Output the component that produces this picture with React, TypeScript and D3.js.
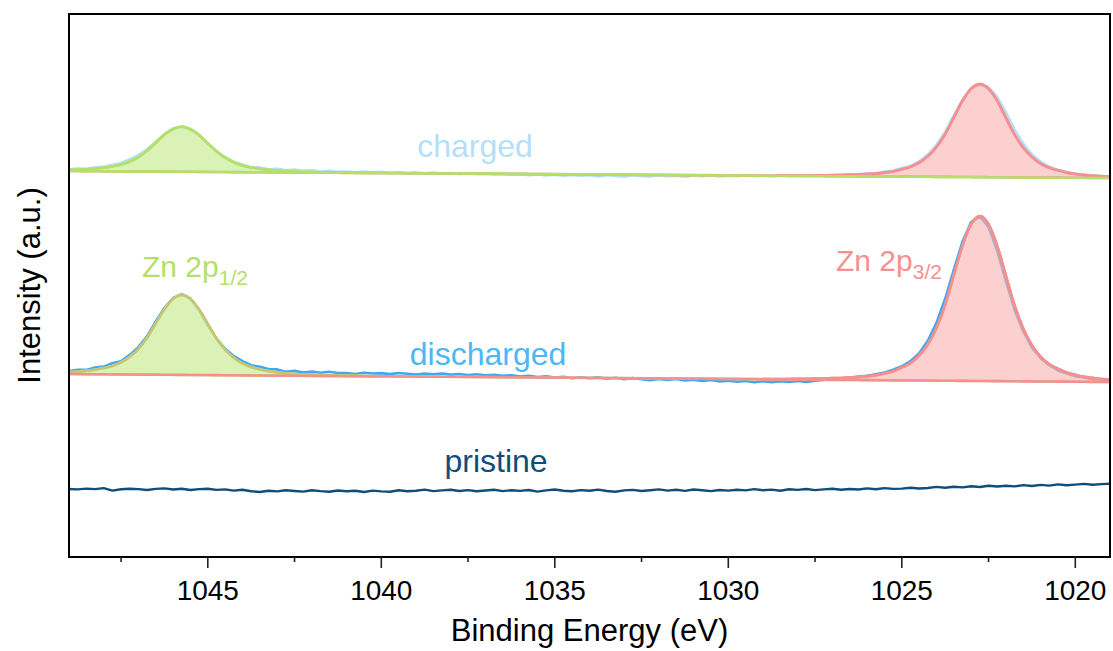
import React from 'react';
import * as d3 from 'd3';

// ---------- data ----------
// measured energy grid (eV), 0.25 eV step from 1049 to 1019
const RAW_ENERGY: number[] = d3.range(121).map((i) => 1049 - i * 0.25);

const PRISTINE: number[] = [
  68.0, 67.6, 68.4, 67.9, 68.9, 66.4, 67.8, 68.2, 67.9, 67.0,
  68.1, 68.6, 67.5, 68.3, 67.0, 67.9, 68.2, 67.1, 67.6, 66.4,
  67.3, 65.8, 65.0, 66.3, 65.6, 66.7, 66.0, 65.4, 66.8, 65.9,
  65.2, 66.5, 65.7, 66.2, 65.0, 66.4, 65.6, 65.3, 66.7, 65.8,
  66.2, 67.4, 65.9, 66.6, 67.3, 66.0, 66.9, 65.7, 66.5, 67.2,
  65.9, 66.8, 66.1, 67.0, 65.4, 66.6, 67.5, 66.2, 65.8, 66.9,
  66.3, 67.4, 66.0, 65.2, 66.6, 67.1, 66.0, 66.8, 67.6, 66.4,
  67.2, 66.1, 67.5, 66.7, 65.9, 67.0, 66.4, 67.3, 66.6, 67.9,
  66.8, 67.4, 66.2, 67.8, 67.1, 68.0, 66.9, 67.6, 68.3, 67.2,
  68.0, 67.5, 68.6, 67.7, 68.9, 68.1, 68.4, 69.3, 68.5, 69.0,
  70.1, 69.2, 70.3, 69.6, 70.8, 70.0, 71.2, 70.5, 71.3, 70.6,
  71.9, 71.0, 72.1, 71.4, 72.6, 71.7, 72.4, 73.1, 72.2, 72.9,
  73.3,
];

const DISCHARGED: number[] = [
  185.9, 187.1, 187.1, 189.4, 190.4, 193.7, 195.8, 202.1, 209.9, 220.7,
  235.5, 249.1, 259.0, 262.9, 258.4, 247.1, 231.9, 218.4, 208.2, 200.8,
  195.9, 191.8, 190.2, 187.9, 187.6, 185.3, 186.1, 184.4, 185.5, 184.2,
  185.2, 184.0, 183.9, 183.0, 184.3, 183.5, 183.9, 182.9, 184.0, 183.3,
  182.5, 183.4, 182.8, 183.5, 182.4, 183.0, 181.9, 182.7, 181.7, 182.2,
  181.1, 181.7, 180.4, 181.1, 179.9, 180.6, 179.5, 180.2, 178.7, 179.7,
  178.7, 179.8, 178.3, 179.2, 177.7, 178.9, 177.8, 176.9, 178.0, 177.1,
  178.1, 176.5, 177.3, 176.1, 177.0, 175.6, 176.4, 175.3, 176.0, 174.8,
  175.7, 174.9, 175.9, 175.0, 176.0, 175.1, 176.3, 177.0, 178.2, 178.1,
  179.5, 180.5, 181.1, 182.8, 184.4, 187.3, 190.7, 195.8, 203.8, 216.2,
  234.1, 258.2, 287.3, 315.4, 334.9, 340.5, 329.7, 306.2, 275.9, 247.1,
  225.5, 209.4, 198.8, 191.8, 186.5, 183.6, 180.7, 179.6, 177.7, 177.2,
  176.3,
];

const CHARGED: number[] = [
  387.6, 388.5, 388.2, 389.8, 390.2, 392.2, 394.0, 397.7, 401.9, 407.7,
  415.4, 423.1, 428.6, 430.4, 427.6, 421.2, 413.4, 405.7, 399.8, 395.0,
  392.4, 389.8, 389.6, 387.8, 388.2, 386.7, 387.5, 386.1, 386.7, 385.5,
  386.2, 385.2, 385.4, 384.6, 385.4, 384.7, 385.1, 384.2, 384.9, 384.0,
  384.6, 383.8, 384.4, 383.3, 384.0, 383.0, 383.6, 382.8, 383.4, 382.5,
  383.1, 382.2, 382.8, 381.9, 382.5, 381.6, 382.2, 381.4, 382.0, 381.2,
  381.8, 380.6, 381.9, 381.1, 380.4, 381.7, 381.0, 380.5, 381.8, 380.9,
  381.3, 380.4, 381.6, 380.8, 381.9, 380.5, 381.2, 380.7, 381.8, 380.9,
  381.4, 380.6, 381.9, 381.0, 381.5, 380.8, 381.4, 381.5, 382.3, 381.9,
  382.8, 382.6, 383.6, 383.9, 385.4, 386.4, 388.9, 391.1, 395.8, 402.5,
  412.2, 425.4, 441.6, 457.3, 468.5, 472.6, 469.7, 460.1, 444.7, 427.4,
  413.4, 402.8, 395.3, 390.4, 387.2, 385.3, 383.3, 382.6, 381.1, 381.1,
  380.3,
];

// linear backgrounds [energy, intensity]
const BG_DISCHARGED: [number, number][] = [[1049, 183], [1019, 175]];
const BG_CHARGED: [number, number][] = [[1049, 386], [1019, 379]];

// fitted components (intensity above background)
// Zn 2p1/2 window starts at grid index 0, Zn 2p3/2 windows end at the last index
const DIS_P12: number[] = [
  1.9, 2.4, 3.4, 4.4, 6.2, 8.4, 12.0, 17.6, 25.6, 36.8,
  51.2, 65.6, 76.0, 80.0, 76.0, 65.6, 51.2, 36.8, 25.6, 17.6,
  12.0, 8.4, 6.2, 4.4, 3.4, 2.4, 1.9, 1.4, 1.2, 1.0, 0.8, 0.6,
  0.5, 0.4, 0.3, 0.2, 0.1,
];
const DIS_P32: number[] = [
  0.2, 0.3, 0.45, 0.6, 0.75, 0.9, 1.1,
  1.3, 1.7, 2.0, 2.5, 3.0, 4.0, 5.0, 6.9, 9.1, 12.9,
  17.3, 24.8, 36.3, 52.8, 75.9, 105.6, 135.3, 156.8, 165.0, 156.8,
  135.3, 105.6, 75.9, 52.8, 36.3, 24.8, 17.3, 12.9, 9.1, 6.9,
  5.0, 4.0, 3.0, 2.5,
];
const CHG_P12: number[] = [
  1.1, 1.35, 1.9, 2.5, 3.5, 4.7, 6.75, 9.9, 14.4, 20.7,
  28.8, 36.9, 42.75, 45, 42.75, 36.9, 28.8, 20.7, 14.4, 9.9,
  6.75, 4.7, 3.5, 2.5, 1.9, 1.35, 1.1, 0.8, 0.7, 0.5, 0.45, 0.36,
  0.3, 0.2, 0.15, 0.1,
];
const CHG_P32: number[] = [
  0.2, 0.3, 0.4, 0.5, 0.62,
  0.75, 0.93, 1.1, 1.4, 1.7, 2.2, 2.8, 3.9, 5.1, 7.3,
  9.8, 14.0, 20.5, 29.8, 42.8, 59.5, 76.3, 88.4, 93, 88.4,
  76.3, 59.5, 42.8, 29.8, 20.5, 14.0, 9.8, 7.3, 5.1, 3.9,
  2.8, 2.2, 1.7, 1.4,
];

const MAJOR_TICKS = [1045, 1040, 1035, 1030, 1025, 1020];
const MINOR_TICKS = [1047.5, 1042.5, 1037.5, 1032.5, 1027.5, 1022.5];

// ---------- layout ----------
const W = 1113, H = 651;
const L = 69, R = 1110, T = 14, B = 557;
const FONT = "'Liberation Sans', Arial, Helvetica, sans-serif";

const C = {
  charged: '#b3e0f9',
  chargedText: '#b3dff8',
  discharged: '#3ea8f0',
  dischargedText: '#4db7f4',
  pristine: '#0f4d7a',
  green: '#b4e06a',
  greenFill: '#c1ea86',
  red: '#f59090',
  redFill: '#fcb0b0',
};

export default function App() {
  const x = d3.scaleLinear().domain([1049, 1019]).range([L, R]);
  const y = d3.scaleLinear().domain([0, 543]).range([B, T]);

  const line = d3
    .line<[number, number]>()
    .x((d) => x(d[0]))
    .y((d) => y(d[1]))
    .curve(d3.curveMonotoneX);
  const rawLine = d3
    .line<[number, number]>()
    .x((d) => x(d[0]))
    .y((d) => y(d[1]))
    .curve(d3.curveLinear);

  const bgScale = (bg: [number, number][]) =>
    d3.scaleLinear().domain([bg[0][0], bg[1][0]]).range([bg[0][1], bg[1][1]]);

  const comp = (vals: number[], bg: [number, number][], side: 'left' | 'right') => {
    const b = bgScale(bg);
    const energies =
      side === 'left'
        ? RAW_ENERGY.slice(0, vals.length)
        : RAW_ENERGY.slice(RAW_ENERGY.length - vals.length);
    const pts: [number, number][] = energies.map((e, i) => [e, b(e) + vals[i]]);
    const full: [number, number][] =
      side === 'left'
        ? [...pts, [bg[1][0], bg[1][1]]]
        : [[bg[0][0], bg[0][1]], ...pts];
    const closed = d3
      .area<number>()
      .x((_, i) => x(energies[i]))
      .y0((_, i) => y(b(energies[i])))
      .y1((v, i) => y(b(energies[i]) + v))
      .curve(d3.curveMonotoneX)(vals);
    return { line: line(full) || '', area: closed || '' };
  };

  const disG = comp(DIS_P12, BG_DISCHARGED, 'left');
  const disR = comp(DIS_P32, BG_DISCHARGED, 'right');
  const chgG = comp(CHG_P12, BG_CHARGED, 'left');
  const chgR = comp(CHG_P32, BG_CHARGED, 'right');

  const bgD = bgScale(BG_DISCHARGED);
  const off32 = RAW_ENERGY.length - DIS_P32.length;
  const envelope: [number, number][] = RAW_ENERGY.map((e, i) => [
    e,
    bgD(e) + (i < DIS_P12.length ? DIS_P12[i] : 0) + (i >= off32 ? DIS_P32[i - off32] : 0),
  ]);

  const toPts = (arr: number[]): [number, number][] => RAW_ENERGY.map((e, i) => [e, arr[i]]);

  const SW = 2.6;

  return (
    <svg
      width={W}
      height={H}
      viewBox={`0 0 ${W} ${H}`}
      style={{ position: 'absolute', left: 0, top: 0, background: '#fff' }}
      fontFamily={FONT}
    >
      <defs>
        <clipPath id="plot">
          <rect x={L} y={T} width={R - L} height={B - T} />
        </clipPath>
      </defs>
      <rect x={0} y={0} width={W} height={H} fill="#fff" />
      <g clipPath="url(#plot)" fill="none" strokeLinejoin="round" strokeLinecap="round">
        {/* pristine */}
        <path d={rawLine(toPts(PRISTINE)) || ''} stroke={C.pristine} strokeWidth={2.4} />
        {/* discharged */}
        <path d={rawLine(toPts(DISCHARGED)) || ''} stroke={C.discharged} strokeWidth={SW} />
        <path d={disG.area} fill={C.greenFill} fillOpacity={0.6} stroke={C.green} strokeWidth={SW} />
        <path d={disG.line} stroke={C.green} strokeWidth={SW} />
        <path d={disR.area} fill={C.redFill} fillOpacity={0.6} stroke={C.red} strokeWidth={SW} />
        <path d={disR.line} stroke={C.red} strokeWidth={SW} />
        <path d={line(envelope) || ''} stroke={C.red} strokeWidth={2.2} strokeOpacity={0.4} />
        {/* charged */}
        <path d={rawLine(toPts(CHARGED)) || ''} stroke={C.charged} strokeWidth={SW} />
        <path d={chgR.area} fill={C.redFill} fillOpacity={0.6} stroke={C.red} strokeWidth={SW} />
        <path d={chgR.line} stroke={C.red} strokeWidth={SW} />
        <path d={chgG.area} fill={C.greenFill} fillOpacity={0.6} stroke={C.green} strokeWidth={SW} />
        <path d={chgG.line} stroke={C.green} strokeWidth={SW} />
      </g>

      {/* annotations */}
      <g fontSize={32}>
        <text x={475} y={157} textAnchor="middle" fill={C.chargedText}>charged</text>
        <text x={488} y={365} textAnchor="middle" fill={C.dischargedText}>discharged</text>
        <text x={496} y={472} textAnchor="middle" fill={C.pristine}>pristine</text>
        <text x={142} y={277} fill={C.green} fontSize={30}>
          Zn 2p<tspan fontSize={21} dy={8}>1/2</tspan>
        </text>
        <text x={836} y={271} fill={C.red} fontSize={30}>
          Zn 2p<tspan fontSize={21} dy={8}>3/2</tspan>
        </text>
      </g>

      {/* frame */}
      <rect x={L} y={T} width={R - L} height={B - T} fill="none" stroke="#000" strokeWidth={2} />
      {/* ticks */}
      <g stroke="#222" strokeWidth={1.6}>
        {MAJOR_TICKS.map((t) => (
          <line key={'M' + t} x1={x(t)} x2={x(t)} y1={B} y2={B + 11} />
        ))}
        {MINOR_TICKS.map((t) => (
          <line key={'m' + t} x1={x(t)} x2={x(t)} y1={B} y2={B + 5} />
        ))}
      </g>
      <g fontSize={28} fill="#000" textAnchor="middle">
        {MAJOR_TICKS.map((t) => (
          <text key={'t' + t} x={x(t)} y={600}>{t}</text>
        ))}
      </g>
      <text x={(L + R) / 2} y={641} fontSize={31} textAnchor="middle" fill="#000">
        Binding Energy (eV)
      </text>
      <text
        transform={`translate(40, ${(T + B) / 2}) rotate(-90)`}
        fontSize={31}
        textAnchor="middle"
        fill="#000"
      >
        Intensity (a.u.)
      </text>
    </svg>
  );
}
